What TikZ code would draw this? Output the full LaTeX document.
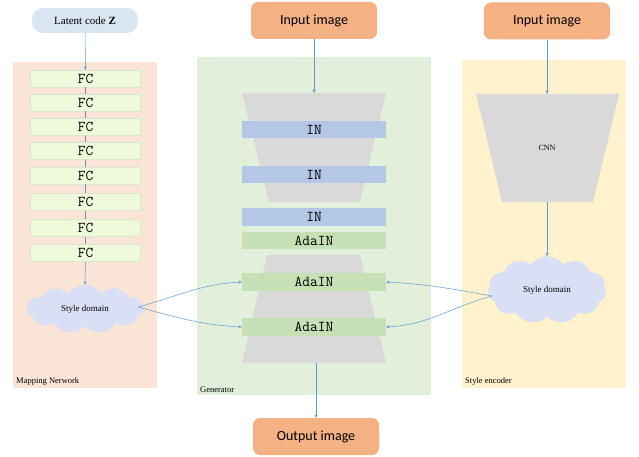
\documentclass[tikz,border=0pt]{standalone}
\usepackage{fontspec}
\setmainfont{Liberation Serif}
\newfontfamily\imgfont{Carlito}
\usetikzlibrary{shapes.symbols,arrows.meta}
\definecolor{mapbg}{HTML}{F9E4D6}
\definecolor{genbg}{HTML}{E2EFDA}
\definecolor{encbg}{HTML}{FFF2CC}
\definecolor{fcfill}{HTML}{EEFADB}
\definecolor{fcline}{HTML}{DCE8CC}
\definecolor{infill}{HTML}{B4C7E7}
\definecolor{adafill}{HTML}{C5E0B4}
\definecolor{trapfill}{HTML}{D9D9D9}
\definecolor{imgfill}{HTML}{F4B183}
\definecolor{latfill}{HTML}{DAE5F2}
\definecolor{cloudfill}{HTML}{D9DFF4}
\definecolor{linkcol}{HTML}{5B9BD5}
\tikzset{
  fcbox/.style={draw=fcline, fill=fcfill, minimum width=110pt, minimum height=17pt, inner sep=0pt, font=\ttfamily\fontsize{15}{15}\selectfont},
  inbox/.style={fill=infill, minimum width=144pt, minimum height=17.5pt, inner sep=0pt, font=\ttfamily\fontsize{15}{15}\selectfont},
  adabox/.style={inbox, fill=adafill},
  imgbox/.style={fill=imgfill, rounded corners=7pt, minimum width=126pt, minimum height=37pt, inner sep=0pt, font=\imgfont\fontsize{14}{14}\selectfont},
  stylecloud/.style={cloud, cloud puffs=11, cloud puff arc=110, aspect=2.4, fill=cloudfill, draw=cloudfill, inner sep=0pt, font=\fontsize{9}{9}\selectfont},
  link/.style={draw=linkcol, line width=0.5pt, -{Stealth[length=3.5pt,width=3pt]}},
  chain/.style={draw=linkcol!70!gray, line width=0.5pt},
  tag/.style={anchor=south west, inner sep=0pt, font=\fontsize{8.5}{8.5}\selectfont}
}
\begin{document}
\begin{tikzpicture}[x=1pt,y=-1pt]
\useasboundingbox (0,0) rectangle (639,457);

% panels
\fill[mapbg] (13,62) rectangle (157,388);
\fill[genbg] (197,57) rectangle (431,395);
\fill[encbg] (462,60) rectangle (626,388);
\node[tag] (maptag) at (16,386) {Mapping Nerwork};
\node[tag] (gentag) at (200,393) {Generator};
\node[tag] (enctag) at (465,386) {Style encoder};

% mapping network
\node[fill=latfill, rounded corners=11pt, minimum width=106pt, minimum height=25pt, inner sep=0pt, font=\fontsize{11}{11}\selectfont] (latent) at (85,20.5) {Latent code $\mathbf{Z}$};
\foreach \i/\y in {1/78.5,2/102.5,3/127,4/151,5/175.5,6/202,7/228,8/253}
  \node[fcbox] (fc\i) at (85.5,\y) {FC};
\foreach \a/\b in {1/2,2/3,3/4,4/5,5/6,6/7,7/8}
  \draw[chain] (fc\a) -- (fc\b);
\node[stylecloud, minimum width=116pt, minimum height=48pt] (domL) at (85,309) {Style domain};
\draw[link] (latent) -- (fc1);
\draw[link] (fc8) -- (domL.north);

% generator
\fill[trapfill] (242,93) -- (386,93) -- (360,202) -- (269,202) -- cycle;
\fill[trapfill] (267,255) -- (360,255) -- (386,363) -- (242,363) -- cycle;
\coordinate (gentop) at (314,93);
\coordinate (genbot) at (316,363);
\node[inbox] (in1) at (314,129.5) {IN};
\node[inbox] (in2) at (314,174.5) {IN};
\node[inbox] (in3) at (314,217) {IN};
\node[adabox] (ada1) at (314,240.5) {AdaIN};
\node[adabox] (ada2) at (314,282) {AdaIN};
\node[adabox] (ada3) at (314,327) {AdaIN};
\node[imgbox] (inmid) at (314,20.5) {Input image};
\node[imgbox] (outimg) at (316,436.5) {Output image};
\draw[link] (inmid) -- (gentop);
\draw[link] (genbot) -- (outimg);

% style encoder
\fill[trapfill] (476,94) -- (619,94) -- (593,202) -- (502,202) -- cycle;
\node[font=\fontsize{8}{8}\selectfont] (cnn) at (547,148) {CNN};
\coordinate (cnnbot) at (547,202);
\coordinate (cnntop) at (547,94);
\node[imgbox] (inright) at (547,21) {Input image};
\node[stylecloud, minimum width=118pt, minimum height=67pt] (domR) at (547,290) {Style domain};
\draw[link] (inright) -- (cnntop);
\draw[link] (cnnbot) -- (domR.north);

% style injection
\coordinate (domLout) at (138,307);
\coordinate (domRout) at (492,296);
\draw[link] (domLout) to[out=15, in=183] (ada2.west);
\draw[link] (domLout) to[out=-15, in=177] (ada3.west);
\draw[link] (domRout) to[out=170, in=-3] (ada2.east);
\draw[link] (domRout) to[out=195, in=3] (ada3.east);
\end{tikzpicture}
\end{document}
